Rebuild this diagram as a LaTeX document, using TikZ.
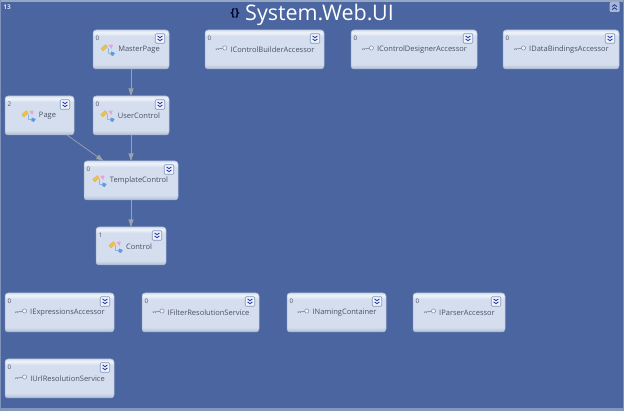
\documentclass[tikz,border=0pt]{standalone}
\usepackage{fontspec}
\setmainfont{Open Sans}
\usetikzlibrary{arrows.meta,calc}
\definecolor{bgblue}{HTML}{4A659F}
\definecolor{boxbody}{HTML}{D5DEEE}
\definecolor{boxedge}{HTML}{A9B7D0}
\definecolor{boxlow}{HTML}{BFCBE0}
\definecolor{boxtop}{HTML}{F0F4FA}
\definecolor{textgrey}{HTML}{4A5164}
\definecolor{linkgrey}{HTML}{9CA1AC}
\definecolor{chevblue}{HTML}{2A3AA8}
\definecolor{btnedge}{HTML}{7F97BC}
\definecolor{iconyellow}{HTML}{EBC24A}
\definecolor{iconpink}{HTML}{E8A0DC}
\definecolor{iconblue}{HTML}{5C9BDC}
\definecolor{keygrey}{HTML}{8C93A3}
\pgfdeclareverticalshading{boxshade}{100bp}{color(0bp)=(boxedge);color(25bp)=(boxedge);color(27.5bp)=(boxlow);color(31bp)=(boxbody);color(67bp)=(boxbody);color(72bp)=(boxtop);color(75bp)=(boxbody);color(100bp)=(boxbody)}
\tikzset{
  boxst/.style={rectangle,draw=boxedge,line width=.5pt,rounded corners=3pt,shading=boxshade,outer sep=0pt,inner sep=0pt},
  lbl/.style={font=\fontsize{7.5}{9}\selectfont,text=textgrey,inner sep=0pt},
  cnt/.style={font=\fontsize{6.3}{8}\selectfont,text=textgrey,inner sep=0pt},
  btn/.style={rectangle,draw=btnedge,line width=.7pt,fill=boxtop,rounded corners=1pt,minimum size=9.5pt,inner sep=0pt},
  chev/.style={draw=chevblue,line width=.9pt},
  link/.style={draw=linkgrey,line width=.7pt,-{Triangle[length=7.5pt,width=5pt,fill=linkgrey]}},
  titlest/.style={font=\fontsize{21.5}{26}\selectfont,text=white,inner sep=0pt},
}
% #1 name, #2-#5 x0 y0 x1 y1, #6 count, #7 label, #8 kind (0 class, 1 interface)
\newcommand\umlbox[8]{%
  \pgfmathsetlengthmacro\bw{(#4-#2)*1pt}%
  \pgfmathsetlengthmacro\bh{(#5-#3)*1pt}%
  \node[boxst,minimum width=\bw,minimum height=\bh] (#1) at ({(#2+#4)/2},{(#3+#5)/2}) {};
  \node[cnt] (#1-count) at (#2+4.5,#3+8) {#6};
  \node[btn] (#1-btn) at (#4-9,#3+8.5) {};
  \draw[chev] ($(#1-btn)+(-2.4,-2.6)$) -- ++(2.4,1.8) -- ++(2.4,-1.8);
  \draw[chev] ($(#1-btn)+(-2.4,0.4)$) -- ++(2.4,1.8) -- ++(2.4,-1.8);
  \node[lbl] (#1-label) at ({(#2+#4)/2+8},#3+20) {#7};
  \ifnum#8=0
    \begin{scope}[shift={(#1-label.west)}]
      \fill[iconyellow,draw=iconyellow!75!brown,line width=.3pt] (-17,-1.5) -- (-12.5,-5.5) -- (-10.5,-3) -- (-15,1) -- cycle;
      \fill[iconpink] (-9.5,-5) -- (-5,-5.5) -- (-6.5,-1) -- cycle;
      \draw[iconblue!70!white,line width=.9pt] (-10,-2) -- (-10,3) -- (-6,3);
      \fill[iconblue] (-7,1.5) -- (-3,3) -- (-5,6) -- (-7.5,5) -- cycle;
    \end{scope}
  \else
    \begin{scope}[shift={(#1-label.west)}]
      \draw[keygrey,line width=.8pt] (-15,-1) -- (-7.5,-1.6);
      \draw[keygrey,line width=.6pt,fill=boxtop] (-5.5,-2) circle (2.1pt);
      \draw[keygrey,line width=.5pt] (-14.5,-1) -- ++(0,1.3) (-12.5,-1.1) -- ++(0,1.3);
    \end{scope}
  \fi
}
\begin{document}
\begin{tikzpicture}[x=1pt,y=-1pt]
\useasboundingbox (0,0) rectangle (624,411);
\fill[bgblue] (0,0) rectangle (624,411);
\fill[boxedge!80!bgblue] (0,0) rectangle (624,2);
\fill[boxedge!60!bgblue] (0,408.5) rectangle (624,411);
\fill[boxedge!55!bgblue] (0,0) rectangle (1,411);
\fill[boxedge!55!bgblue] (623,0) rectangle (624,411);
\node[font=\fontsize{6.5}{8}\selectfont\bfseries,text=boxbody,inner sep=0pt] (count) at (7,7) {13};
\node[titlest,anchor=west] (title) at (245,15) {System.Web.UI};
\node[font=\fontsize{11}{12}\selectfont\bfseries,text=black!85!blue,inner sep=0pt] (braces) at (235,13.5) {\{\}};
\node[btn,draw=none,fill=boxedge,minimum size=10pt] (collapse) at (614.5,7) {};
\draw[chev] ($(collapse)+(-2.4,-0.4)$) -- ++(2.4,-1.8) -- ++(2.4,1.8);
\draw[chev] ($(collapse)+(-2.4,2.6)$) -- ++(2.4,-1.8) -- ++(2.4,1.8);

\umlbox{mp}{93}{30}{169}{69}{0}{MasterPage}{0}
\umlbox{icb}{205}{30}{324}{69}{0}{IControlBuilderAccessor}{1}
\umlbox{icd}{351}{30}{477}{69}{0}{IControlDesignerAccessor}{1}
\umlbox{idb}{503}{30}{619}{69}{0}{IDataBindingsAccessor}{1}
\umlbox{page}{5}{96}{74}{135}{2}{Page}{0}
\umlbox{uc}{93}{96}{169}{135}{0}{UserControl}{0}
\umlbox{tc}{84}{161}{178}{200}{0}{TemplateControl}{0}
\umlbox{ctl}{96}{227}{166}{265}{1}{Control}{0}
\umlbox{iea}{5}{293}{114}{332}{0}{IExpressionsAccessor}{1}
\umlbox{ifr}{142}{293}{259}{332}{0}{IFilterResolutionService}{1}
\umlbox{inc}{287}{293}{386}{332}{0}{INamingContainer}{1}
\umlbox{ipa}{413}{293}{505}{332}{0}{IParserAccessor}{1}
\umlbox{iur}{5}{359}{114}{398}{0}{IUrlResolutionService}{1}

\draw[link] (mp) -- (uc);
\draw[link] (uc) -- (tc);
\draw[link] (page) -- (tc);
\draw[link] (tc) -- (ctl);
\end{tikzpicture}
\end{document}
